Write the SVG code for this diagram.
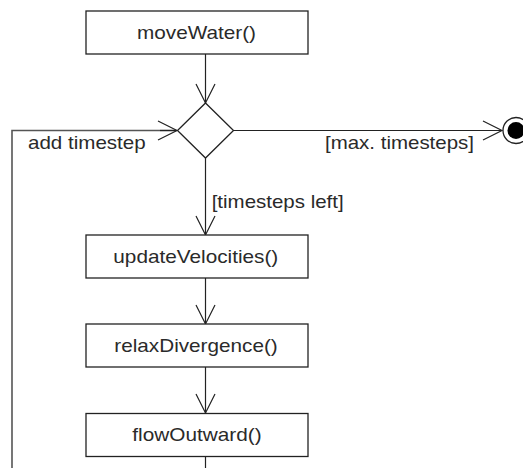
<svg xmlns="http://www.w3.org/2000/svg" width="523" height="468" viewBox="0 0 523 468">
<style>
.box{fill:#fff;stroke:#222;stroke-width:1.3}
.t{font-family:"Liberation Sans",Arial,sans-serif;font-size:17.8px;fill:#2a2a2a}
.ln{fill:none;stroke:#222;stroke-width:1.2}
.loop{fill:none;stroke:#555;stroke-width:1.6}
</style>
<defs>
<marker id="a" markerUnits="userSpaceOnUse" markerWidth="24" markerHeight="24" viewBox="-21 -11 24 22" refX="0" refY="0" orient="auto">
<path d="M-19,-9.5 L0,0 L-19,9.5" fill="none" stroke="#222" stroke-width="1.2"/>
</marker>
</defs>
<rect width="523" height="468" fill="#fff"/>
<g id="connectors">
<line class="ln" x1="205.5" y1="54" x2="205.5" y2="103" marker-end="url(#a)"/>
<line class="ln" x1="205.5" y1="158" x2="205.5" y2="235" marker-end="url(#a)"/>
<line class="ln" x1="205.5" y1="278" x2="205.5" y2="324" marker-end="url(#a)"/>
<line class="ln" x1="205.5" y1="367" x2="205.5" y2="413" marker-end="url(#a)"/>
<line class="ln" x1="205.5" y1="457" x2="205.5" y2="468"/>
<line class="ln" x1="233.5" y1="130.5" x2="502" y2="130.5" marker-end="url(#a)"/>
<polyline class="loop" points="12,468 12,130.5 176,130.5"/>
<line class="ln" x1="160" y1="130.5" x2="177" y2="130.5" marker-end="url(#a)"/>
<text class="t" x="28" y="148.5" textLength="117.7" lengthAdjust="spacingAndGlyphs">add timestep</text>
<text class="t" x="325" y="148.5" textLength="149" lengthAdjust="spacingAndGlyphs">[max. timesteps]</text>
<text class="t" x="211.7" y="208" textLength="132" lengthAdjust="spacingAndGlyphs">[timesteps left]</text>
</g>
<g id="moveWater">
<rect class="box" x="86" y="11" width="222" height="43"/>
<text class="t" x="137" y="38.5" textLength="119" lengthAdjust="spacingAndGlyphs">moveWater()</text>
</g>
<g id="decision">
<polygon points="205.5,103 233.5,130.5 205.5,158 177.5,130.5" fill="#fff" stroke="#222" stroke-width="1.3"/>
</g>
<g id="final">
<circle cx="516" cy="130.5" r="13" fill="#fff" stroke="#222" stroke-width="1.3"/>
<circle cx="516" cy="130.5" r="8.5" fill="#000"/>
</g>
<g id="updateVelocities">
<rect class="box" x="86" y="235" width="222" height="43"/>
<text class="t" x="113.3" y="262.5" textLength="165" lengthAdjust="spacingAndGlyphs">updateVelocities()</text>
</g>
<g id="relaxDivergence">
<rect class="box" x="86" y="324" width="222" height="43"/>
<text class="t" x="114.3" y="351.5" textLength="163.4" lengthAdjust="spacingAndGlyphs">relaxDivergence()</text>
</g>
<g id="flowOutward">
<rect class="box" x="86" y="413.5" width="222" height="43"/>
<text class="t" x="132.3" y="441" textLength="129.4" lengthAdjust="spacingAndGlyphs">flowOutward()</text>
</g>
</svg>
